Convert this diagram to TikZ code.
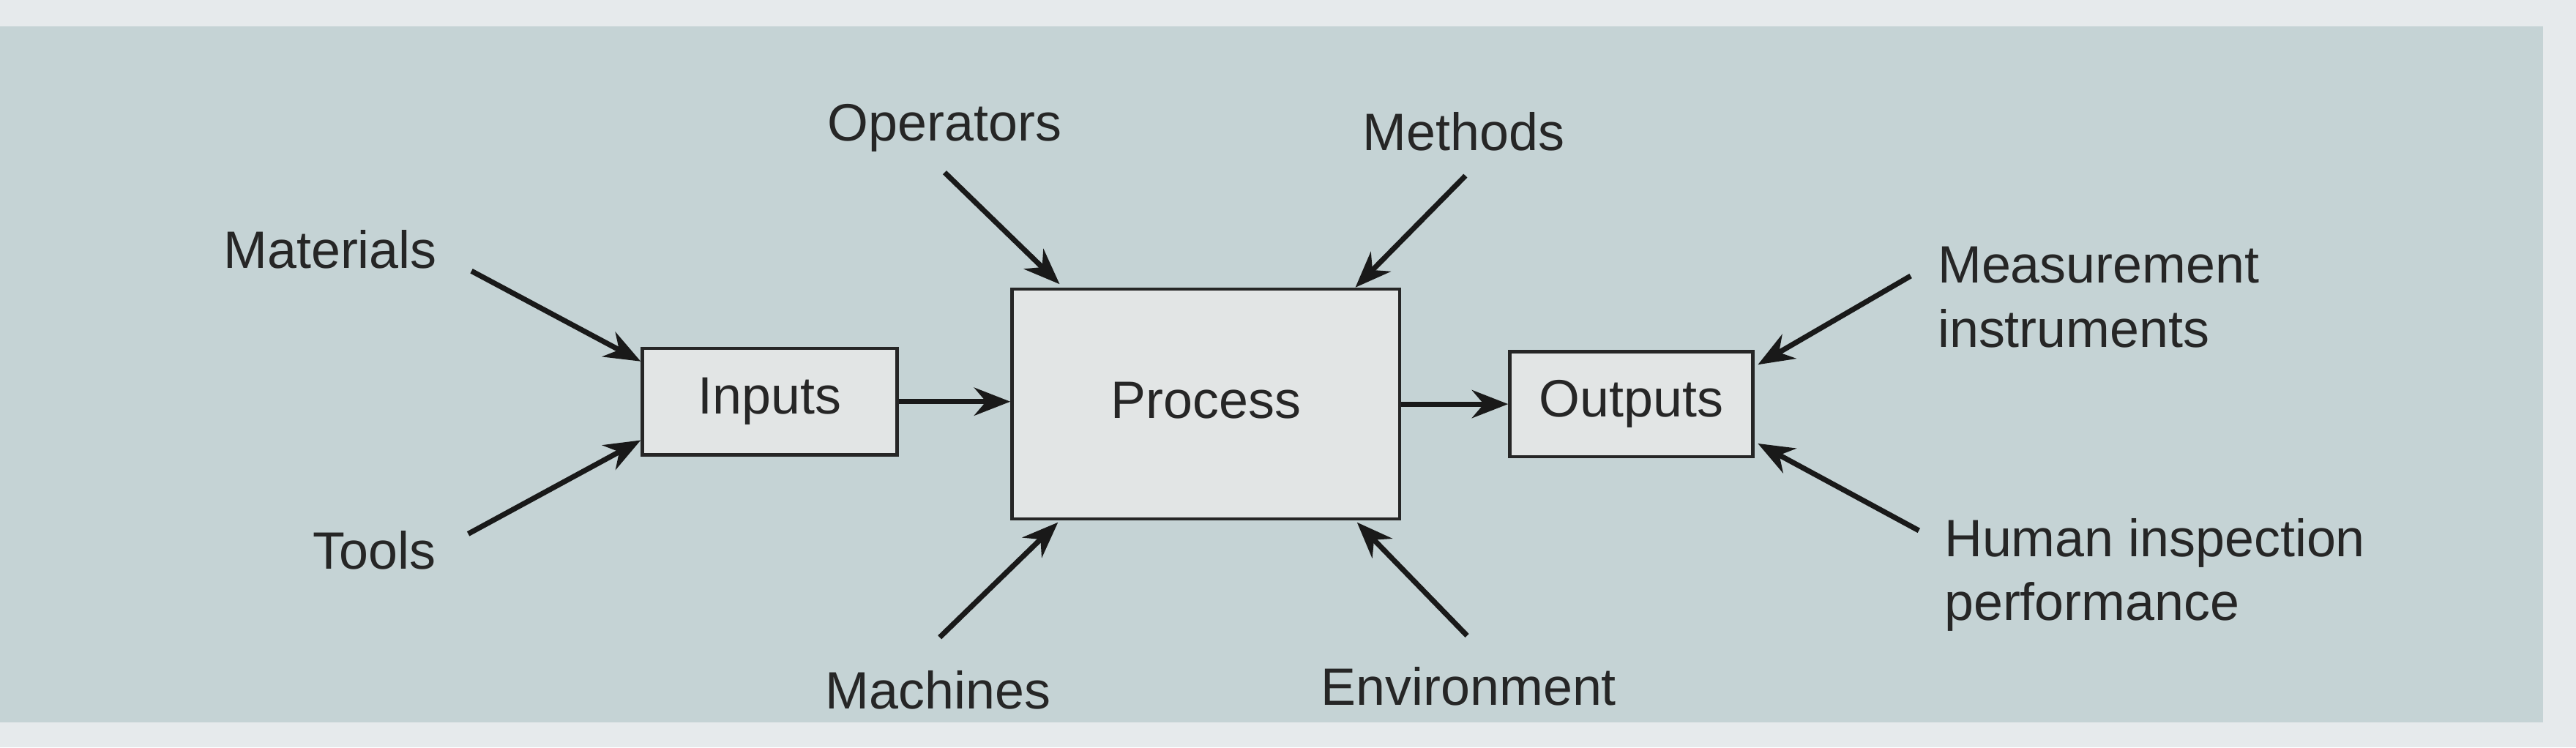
\documentclass[tikz,border=0pt]{standalone}
\usepackage{fontspec}
\setmainfont{Liberation Sans}
\usetikzlibrary{arrows.meta}
\definecolor{panel}{HTML}{C5D3D5}
\definecolor{outer}{HTML}{E6EAEC}
\definecolor{boxfill}{HTML}{E2E5E5}
\begin{document}
\begin{tikzpicture}[x=1pt,y=-1pt,
  box/.style={draw=black!85,line width=2pt,fill=boxfill,inner sep=0pt},
  lbl/.style={font=\fontsize{32}{39}\selectfont,text=black!85},
  arr/.style={line width=3.2pt,draw=black!90,-{Stealth[length=22pt,width=17pt]}}]
\fill[outer] (0,0) rectangle (1568,455);
\fill[panel] (0,16) rectangle (1548,440);
\useasboundingbox (0,0) rectangle (1568,455);
\node[box,minimum width=155pt,minimum height=65pt] (in) at (468.5,244.5) {};
\node[lbl] at (in) {Inputs};
\node[box,minimum width=236pt,minimum height=140pt] (pr) at (734,246) {};
\node[lbl] at (734,244) {Process};
\node[box,minimum width=148pt,minimum height=64pt] (out) at (993,246) {};
\node[lbl] at (out) {Outputs};
\node[lbl] (mat) at (201,152) {Materials};
\node[lbl] (tools) at (228,335) {Tools};
\node[lbl] (op) at (575,78) {Operators};
\node[lbl] (me) at (891,80) {Methods};
\node[lbl] (ma) at (571,420) {Machines};
\node[lbl] (env) at (894,418) {Environment};
\node[lbl,align=left,anchor=west] (meas) at (1176,181) {Measurement\\instruments};
\node[lbl,align=left,anchor=west] (hum) at (1180,350) {Human inspection\\performance};
\coordinate (a1) at (287,165); \coordinate (a1e) at (390,220);
\coordinate (a2) at (285,325); \coordinate (a2e) at (390,268);
\coordinate (a3) at (575,105); \coordinate (a3e) at (645,173);
\coordinate (a4) at (892,107); \coordinate (a4e) at (825,175);
\coordinate (a5) at (572,388); \coordinate (a5e) at (644,318);
\coordinate (a6) at (893,387); \coordinate (a6e) at (826,318);
\coordinate (a7) at (1163,168); \coordinate (a7e) at (1070,222);
\coordinate (a8) at (1168,323); \coordinate (a8e) at (1070,270);
\draw[arr] (a1) -- (a1e);
\draw[arr] (a2) -- (a2e);
\draw[arr] (a3) -- (a3e);
\draw[arr] (a4) -- (a4e);
\draw[arr] (a5) -- (a5e);
\draw[arr] (a6) -- (a6e);
\draw[arr] (a7) -- (a7e);
\draw[arr] (a8) -- (a8e);
\draw[arr] (in.east) -- (pr.west|-in.east);
\draw[arr] (pr.east|-out.west) -- (out.west);
\end{tikzpicture}
\end{document}
